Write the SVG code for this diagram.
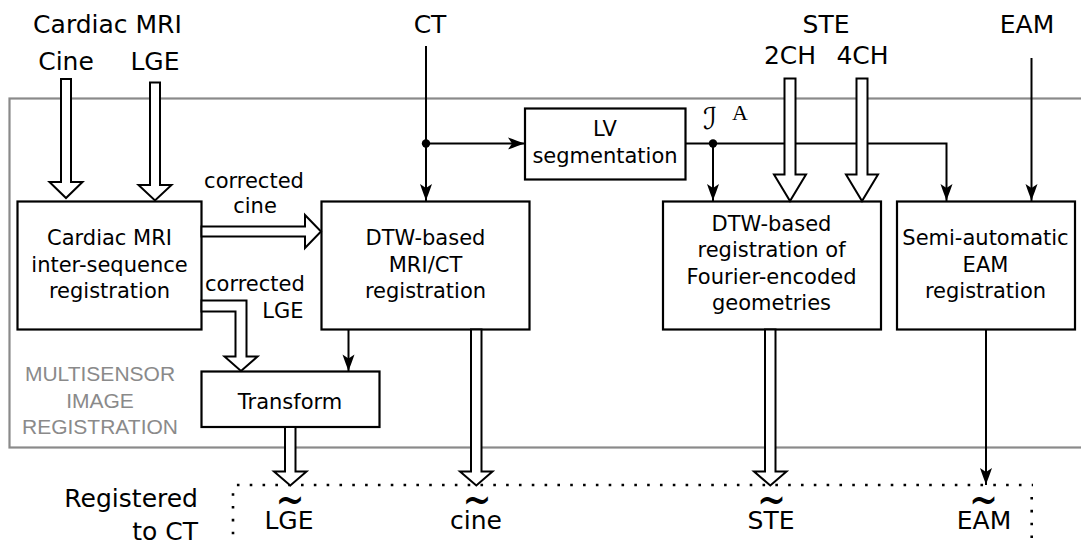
<svg xmlns="http://www.w3.org/2000/svg" width="1081" height="544" viewBox="0 0 1081 544">
<defs>
<style>
.t{font-family:"DejaVu Sans","Liberation Sans",sans-serif;fill:#000}
.s25{font-size:25px}
.s21{font-size:21px}
.mid{text-anchor:middle}
.end{text-anchor:end}
.box{fill:#fff;stroke:#000;stroke-width:2.2}
.hol{fill:#fff;stroke:#000;stroke-width:2;stroke-linejoin:miter}
.conn{fill:none;stroke:#000;stroke-width:2}
.dot{fill:none;stroke:#000;stroke-width:2.6;stroke-dasharray:2.6 10.22}
.gray{font-family:"Liberation Sans",Arial,sans-serif;font-size:21px;fill:#8a8a8a;text-anchor:middle}
.tl{font-family:"DejaVu Sans",sans-serif;font-size:33px;text-anchor:middle}
</style>
<marker id="ah" markerUnits="userSpaceOnUse" viewBox="-18 -7 19 14" refX="0" refY="0" markerWidth="19" markerHeight="14" orient="auto">
<path d="M0,0 C-5,-1.5 -11,-4 -17,-6 L-13,0 L-17,6 C-11,4 -5,1.5 0,0 Z" fill="#000"/>
</marker>
</defs>

<g id="frame">
<rect x="9.5" y="98.5" width="1090" height="349" fill="none" stroke="#8a8a8a" stroke-width="2.2"/>
<text class="gray" x="100" y="381">MULTISENSOR</text>
<text class="gray" x="100" y="407.5">IMAGE</text>
<text class="gray" x="100" y="434">REGISTRATION</text>
</g>

<g id="connectors">
<path class="conn" d="M426,46 V201" marker-end="url(#ah)"/>
<path class="conn" d="M426,143.5 H525" marker-end="url(#ah)"/>
<path class="conn" d="M685.5,143.5 H946.5 V201" marker-end="url(#ah)"/>
<path class="conn" d="M713,143.5 V201" marker-end="url(#ah)"/>
<path class="conn" d="M1031.5,58 V201" marker-end="url(#ah)"/>
<path class="conn" d="M348.5,329.5 V371.5" marker-end="url(#ah)"/>
<path class="conn" d="M986,329.5 V485" marker-end="url(#ah)"/>
<circle cx="426" cy="143.5" r="4.2" fill="#000"/>
<circle cx="713" cy="143.5" r="4.2" fill="#000"/>
<path class="dot" d="M236.9,485 H1033"/>
<path class="dot" d="M233,493.2 V544"/>
<path class="dot" d="M1031.7,497 V544"/>
</g>

<g id="box-mri">
<rect class="box" x="17.5" y="201.5" width="184" height="128"/>
<text class="t s21 mid" x="109.5" y="245">Cardiac MRI</text>
<text class="t s21 mid" x="109.5" y="271.5">inter-sequence</text>
<text class="t s21 mid" x="109.5" y="298">registration</text>
</g>

<g id="box-dtw-mrict">
<rect class="box" x="321.5" y="201.5" width="208" height="128"/>
<text class="t s21 mid" x="425.5" y="245">DTW-based</text>
<text class="t s21 mid" x="425.5" y="271.5">MRI/CT</text>
<text class="t s21 mid" x="425.5" y="298">registration</text>
</g>

<g id="box-lv">
<rect class="box" x="525" y="108.5" width="160.5" height="71"/>
<text class="t s21 mid" x="605" y="135.5">LV</text>
<text class="t s21 mid" x="605" y="162.5">segmentation</text>
</g>

<g id="box-dtw-fourier">
<rect class="box" x="663" y="201.5" width="218" height="128"/>
<text class="t s21 mid" x="771.5" y="230.5">DTW-based</text>
<text class="t s21 mid" x="771.5" y="257">registration of</text>
<text class="t s21 mid" x="771.5" y="283.5">Fourier-encoded</text>
<text class="t s21 mid" x="771.5" y="310">geometries</text>
</g>

<g id="box-eam">
<rect class="box" x="897" y="201.5" width="178" height="128"/>
<text class="t s21 mid" x="985.5" y="245">Semi-automatic</text>
<text class="t s21 mid" x="985.5" y="271.5">EAM</text>
<text class="t s21 mid" x="985.5" y="298">registration</text>
</g>

<g id="box-transform">
<rect class="box" x="201.5" y="371.5" width="178" height="55.5"/>
<text class="t s21 mid" x="290" y="408.5">Transform</text>
</g>

<g id="hollow-arrows">
<polygon class="hol" points="61,79 71,79 71,182 82.5,182 66,198 49.5,182 61,182"/>
<polygon class="hol" points="150,82.5 160,82.5 160,185 171.5,185 155,200.5 138.5,185 150,185"/>
<polygon class="hol" points="784.5,78.5 795.5,78.5 795.5,174.5 806,174.5 790,201 774,174.5 784.5,174.5"/>
<polygon class="hol" points="856.5,78.5 867.5,78.5 867.5,174.5 878,174.5 862,201 846,174.5 856.5,174.5"/>
<polygon class="hol" points="201.5,226.5 305,226.5 305,215 321,231.5 305,248 305,236.5 201.5,236.5"/>
<polygon class="hol" points="201.5,300.5 246.5,300.5 246.5,356.5 257.5,356.5 241,371 224.5,356.5 235.5,356.5 235.5,311.5 201.5,311.5"/>
<polygon class="hol" points="285,427 295.5,427 295.5,471.5 306.5,471.5 290.3,485.5 274,471.5 285,471.5"/>
<polygon class="hol" points="471,329.5 481.5,329.5 481.5,471.5 492.5,471.5 476.3,485.5 460,471.5 471,471.5"/>
<polygon class="hol" points="765,329.5 775.5,329.5 775.5,471.5 786.5,471.5 770.3,485.5 754,471.5 765,471.5"/>
</g>

<g id="labels">
<text class="t s25 mid" x="107.5" y="33">Cardiac MRI</text>
<text class="t s25 mid" x="66" y="70">Cine</text>
<text class="t s25 mid" x="155" y="70">LGE</text>
<text class="t s25 mid" x="430" y="33">CT</text>
<text class="t s25 mid" x="826" y="33">STE</text>
<text class="t s25 mid" x="790" y="64">2CH</text>
<text class="t s25 mid" x="862.5" y="64">4CH</text>
<text class="t s25 mid" x="1027" y="33">EAM</text>
<text class="t s21 mid" x="254" y="188">corrected</text>
<text class="t s21 mid" x="255" y="213">cine</text>
<text class="t s21" x="205" y="290.5">corrected</text>
<text class="t s21 end" x="303.5" y="318">LGE</text>
<text x="703" y="129" font-family="DejaVu Sans,sans-serif" font-style="italic" font-size="30">ℐ<tspan x="732" y="119.5" font-family="Liberation Serif,serif" font-style="normal" font-size="22">A</tspan></text>
<text class="t s25 end" x="198" y="507">Registered</text>
<text class="t s25 end" x="198" y="540">to CT</text>
<text class="t s25 mid" x="289" y="529">LGE</text>
<text class="t s25 mid" x="476" y="529">cine</text>
<text class="t s25 mid" x="771" y="529">STE</text>
<text class="t s25 mid" x="984" y="529">EAM</text>
<text class="tl" transform="translate(290,516) scale(1.05,1.5)">~</text>
<text class="tl" transform="translate(477,516) scale(1.05,1.5)">~</text>
<text class="tl" transform="translate(771.5,516) scale(1.05,1.5)">~</text>
<text class="tl" transform="translate(983.5,516) scale(1.05,1.5)">~</text>
</g>
</svg>
